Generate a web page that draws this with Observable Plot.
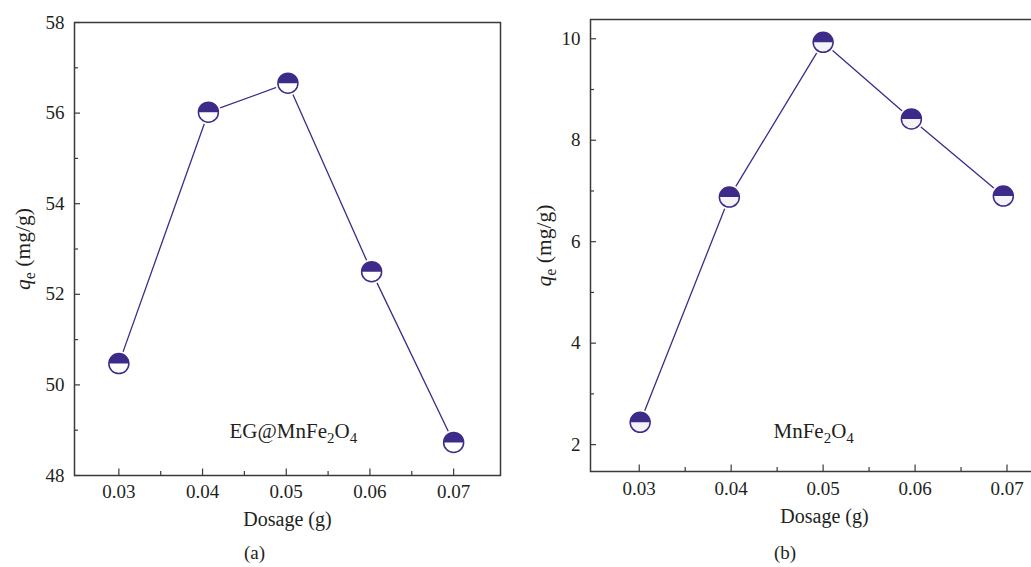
<!DOCTYPE html>
<html>
<head>
<meta charset="utf-8">
<script src="https://cdn.jsdelivr.net/npm/d3@7"></script>
<script src="https://cdn.jsdelivr.net/npm/@observablehq/plot@0.6"></script>
<style>
  html, body { margin: 0; padding: 0; background: #fff; overflow: hidden; }
  #fig { position: relative; width: 1031px; height: 567px; overflow: hidden;
         font-family: "Liberation Serif", "Times New Roman", serif; color: #231f20; }
  .panel { position: absolute; top: 0; }
  .panel svg { max-width: none !important; display: block; }
  .cap { position: absolute; font-size: 19px; transform: translate(-50%, -50%); white-space: nowrap; }
</style>
</head>
<body>
<div id="fig"></div>
<script>
// ---- data ----
const dosageA = [0.0300, 0.0407, 0.0502, 0.0602, 0.0700];
const qeA     = [50.47, 56.02, 56.66, 52.50, 48.73];
const dosageB = [0.0301, 0.0398, 0.0500, 0.0596, 0.0696];
const qeB     = [2.44, 6.88, 9.93, 8.42, 6.90];

const xTicks  = [0.03, 0.04, 0.05, 0.06, 0.07];
const xMinor  = [0.035, 0.045, 0.055, 0.065];
const yTicksA = [48, 50, 52, 54, 56, 58];
const yMinorA = [49, 51, 53, 55, 57];
const yTicksB = [2, 4, 6, 8, 10];
const yMinorB = [3, 5, 7, 9];

const labelA = "EG@MnFe2O4";
const labelB = "MnFe2O4";
const xTitle = "Dosage (g)";
const yTitle = "qe (mg/g)";
const captions = ["(a)", "(b)"];

// ---- styling ----
const purple = "#3e2b89";
const ink = "#231f20";
const frameInk = "#3a3a3a";

const halfTop = {
  draw(context, size) {
    const r = Math.sqrt(size / Math.PI);
    context.moveTo(r, 0);
    context.arc(0, 0, r, 0, Math.PI, true);
    context.closePath();
  }
};

function panel(cfg) {
  const pts = cfg.dosage.map((d, i) => ({x: d, y: cfg.qe[i]}));
  const fw = cfg.width - cfg.ml - cfg.mr;
  const fh = cfg.height - cfg.mt - cfg.mb;
  return Plot.plot({
    width: cfg.width,
    height: cfg.height,
    marginLeft: cfg.ml, marginRight: cfg.mr, marginTop: cfg.mt, marginBottom: cfg.mb,
    style: {fontFamily: '"Liberation Serif", "Times New Roman", serif', fontSize: "19px", color: ink, background: "transparent", overflow: "visible", maxWidth: "none"},
    x: {domain: [0.0247, 0.0756], axis: null},
    y: {domain: cfg.yDomain, axis: null},
    marks: [
      Plot.tickX(xMinor, {x: d => d, insetTop: fh - 4, stroke: frameInk, strokeWidth: 1.2}),
      Plot.tickX(xTicks, {x: d => d, insetTop: fh - 6.5, stroke: frameInk, strokeWidth: 1.2}),
      Plot.tickY(cfg.yMinor, {y: d => d, insetRight: fw - 4, stroke: frameInk, strokeWidth: 1.2}),
      Plot.tickY(cfg.yTicks, {y: d => d, insetRight: fw - 6, stroke: frameInk, strokeWidth: 1.2}),
      Plot.frame({stroke: frameInk, strokeWidth: 1.5}),
      Plot.axisX(xTicks, {tickSize: 0, tickPadding: cfg.xPad, tickFormat: d3.format(".2f"), label: null, fontSize: 19, fill: ink}),
      Plot.axisY(cfg.yTicks, {tickSize: 0, tickPadding: 10, tickFormat: d3.format("d"), label: null, fontSize: 19, fill: ink}),
      Plot.line(pts, {x: "x", y: "y", stroke: purple, strokeWidth: 1.3}),
      Plot.dot(pts, {x: "x", y: "y", r: 12.5, fill: "white", stroke: "none"}),
      Plot.dot(pts, {x: "x", y: "y", r: 10, fill: cfg.lowerFill, stroke: purple, strokeWidth: 1.5}),
      Plot.dot(pts, {x: "x", y: "y", r: 10, symbol: halfTop, fill: purple, stroke: "none"}),
      Plot.text([cfg.label], {text: d => d, frameAnchor: "bottom-left", dx: cfg.labelDx, dy: cfg.labelDy,
        textAnchor: "start", lineAnchor: "middle", fontSize: 21, fill: ink}),
      Plot.text([xTitle], {text: d => d, frameAnchor: "bottom", dy: cfg.xTitleDy, textAnchor: "middle", lineAnchor: "middle", fontSize: 20, fill: ink}),
      Plot.text([yTitle], {text: d => d, frameAnchor: "left", dx: cfg.yTitleDx, rotate: -90, textAnchor: "middle", lineAnchor: "middle", fontSize: 21.5, fill: ink})
    ]
  });
}

const NS = "http://www.w3.org/2000/svg";
function tspan(parent, txt, attrs) {
  const t = document.createElementNS(NS, "tspan");
  t.textContent = txt;
  for (const k in attrs) t.setAttribute(k, attrs[k]);
  parent.appendChild(t);
}
function richify(svg) {
  svg.querySelectorAll("text").forEach(t => {
    const s = t.textContent;
    if (s === labelA || s === labelB) {
      t.textContent = "";
      const parts = s.match(/\d|[^\d]+/g);
      let down = false;
      for (const p of parts) {
        if (/\d/.test(p)) {
          tspan(t, p, {"font-size": "15px", dy: down ? 0 : 5});
          down = true;
        } else {
          tspan(t, p, down ? {dy: -5} : {});
          down = false;
        }
      }
    } else if (s === yTitle) {
      t.textContent = "";
      tspan(t, "q", {"font-style": "italic"});
      tspan(t, "e", {"font-size": "16px", dy: 5});
      tspan(t, " (mg/g)", {dy: -5});
    }
  });
}

const fig = document.getElementById("fig");

const cfgA = {dosage: dosageA, qe: qeA, yDomain: [48, 58], yTicks: yTicksA, yMinor: yMinorA,
  label: labelA, width: 520, height: 540, ml: 74, mr: 20, mt: 22, mb: 65,
  labelDx: 155, labelDy: -44, xTitleDy: 44, yTitleDx: -51, xPad: 9, lowerFill: "#ffffff"};
const cfgB = {dosage: dosageB, qe: qeB, yDomain: [1.47, 10.38], yTicks: yTicksB, yMinor: yMinorB,
  label: labelB, width: 560, height: 540, ml: 70, mr: 22, mt: 19, mb: 69,
  labelDx: 183, labelDy: -40, xTitleDy: 45, yTitleDx: -46.5, xPad: 10, lowerFill: "#f3f3f8"};

[[cfgA, 0], [cfgB, 520]].forEach(([cfg, left]) => {
  const svg = panel(cfg);
  richify(svg);
  svg.style.maxWidth = "none";
  svg.setAttribute("width", cfg.width);
  svg.setAttribute("height", cfg.height);
  const wrap = document.createElement("div");
  wrap.className = "panel";
  wrap.style.left = left + "px";
  wrap.style.width = cfg.width + "px";
  wrap.style.height = cfg.height + "px";
  wrap.appendChild(svg);
  fig.appendChild(wrap);
});

[[captions[0], 254.5], [captions[1], 785]].forEach(([c, x]) => {
  const d = document.createElement("div");
  d.className = "cap";
  d.textContent = c;
  d.style.left = x + "px";
  d.style.top = "553px";
  fig.appendChild(d);
});
</script>
</body>
</html>
